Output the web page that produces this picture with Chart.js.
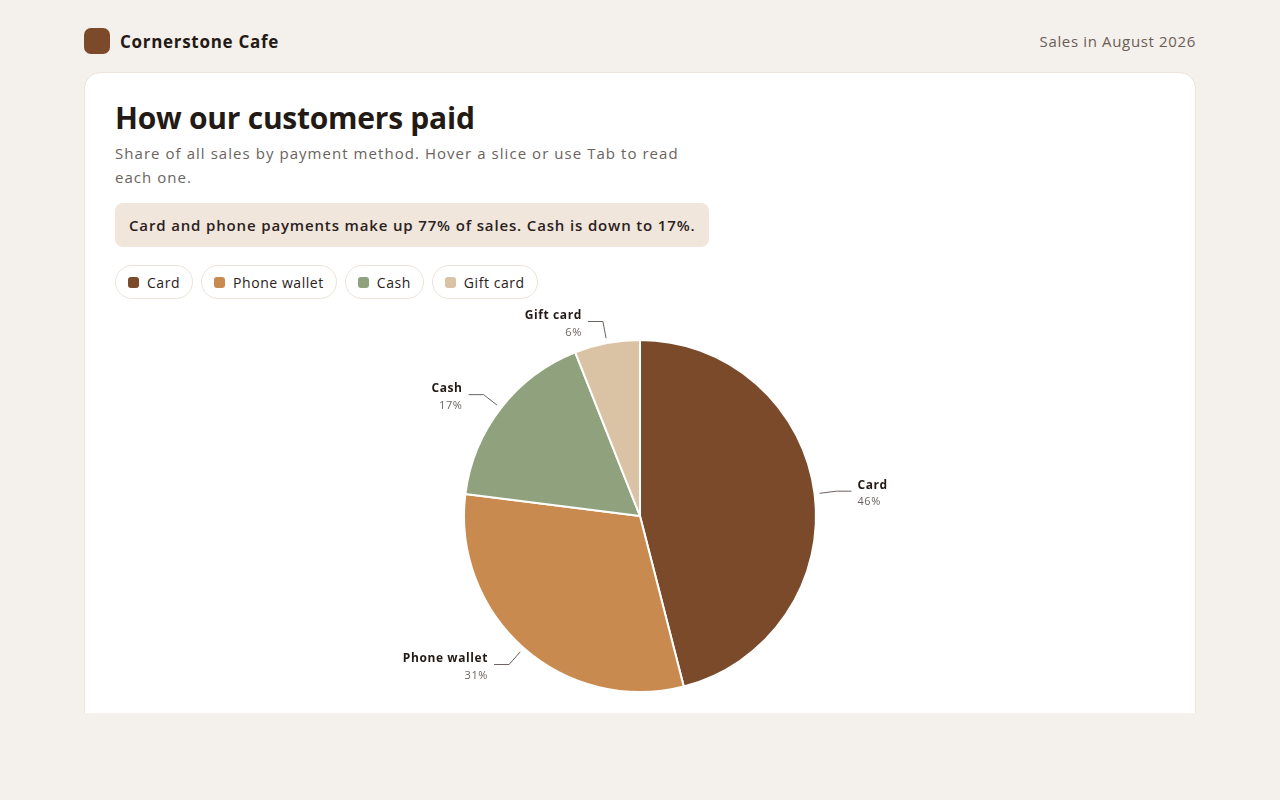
<!DOCTYPE html>
<html lang="en">
<head>
<meta charset="utf-8">
<title>Cornerstone Cafe - How our customers paid</title>
<script src="https://cdn.jsdelivr.net/npm/chart.js@4/dist/chart.umd.min.js"></script>
<style>
  * { box-sizing: border-box; }
  html, body { margin: 0; padding: 0; }
  body {
    background: #f4f0eb;
    font-family: "Open Sans", "Noto Sans", sans-serif;
    color: #231a15;
    width: 1280px;
    height: 800px;
    overflow: hidden;
  }
  .top {
    position: absolute;
    left: 84px;
    right: 84px;
    top: 28px;
    height: 26px;
    display: flex;
    align-items: center;
    justify-content: space-between;
  }
  .brand { display: flex; align-items: center; }
  .logo {
    width: 26px;
    height: 26px;
    border-radius: 7px;
    background: #7a4a2b;
    margin-right: 10px;
  }
  .brand-name { font-size: 17px; font-weight: 700; letter-spacing: 0.7px; }
  .period { font-size: 15px; color: #6b5e55; letter-spacing: 0.65px; }
  .clip {
    position: absolute;
    left: 84px;
    top: 72px;
    width: 1112px;
    height: 641px;
    overflow: hidden;
  }
  .card {
    background: #fff;
    border: 1px solid #ece3da;
    border-radius: 16px;
    height: 700px;
    padding: 25px 30px 0 30px;
  }
  h1 {
    margin: 0;
    font-size: 30px;
    font-weight: 700;
    letter-spacing: -0.25px;
    line-height: 40px;
  }
  .sub {
    margin: 3px 0 0 0;
    font-size: 15px;
    line-height: 24px;
    color: #6b6360;
    letter-spacing: 1.05px;
  }
  .callout {
    display: inline-block;
    margin-top: 14px;
    background: #f1e6dc;
    border-radius: 8px;
    padding: 0 14px;
    height: 44px;
    line-height: 44px;
    font-size: 15px;
    font-weight: 600;
    color: #2a211c;
    letter-spacing: 0.85px;
  }
  .chips { display: flex; gap: 8px; margin-top: 18px; }
  .chip {
    display: flex;
    align-items: center;
    height: 34px;
    padding: 0 12px;
    border: 1px solid #ece3da;
    border-radius: 17px;
    font-size: 14px;
    color: #2a211c;
    letter-spacing: 0.55px;
  }
  .sw { width: 11px; height: 11px; border-radius: 3px; margin-right: 8px; }
  .chart-box { position: relative; height: 422px; margin-top: 1px; }
</style>
</head>
<body>
  <div class="top">
    <div class="brand"><div class="logo"></div><span class="brand-name">Cornerstone Cafe</span></div>
    <div class="period">Sales in August 2026</div>
  </div>
  <div class="clip">
    <div class="card">
      <h1>How our customers paid</h1>
      <p class="sub">Share of all sales by payment method. Hover a slice or use Tab to read<br>each one.</p>
      <div class="callout">Card and phone payments make up 77% of sales. Cash is down to 17%.</div>
      <div class="chips" id="chips"></div>
      <div class="chart-box"><canvas id="pieChart"></canvas></div>
    </div>
  </div>

<script>
const methods = ["Card", "Phone wallet", "Cash", "Gift card"];
const shares = [46, 31, 17, 6];
const sliceColors = ["#7a4a2b", "#c98a4f", "#8fa27d", "#dac3a5"];

const chips = document.getElementById("chips");
methods.forEach((name, i) => {
  const chip = document.createElement("div");
  chip.className = "chip";
  chip.innerHTML = `<span class="sw" style="background:${sliceColors[i]}"></span>${name}`;
  chips.appendChild(chip);
});

// draws the name + percent beside each slice with a small elbow line
const leaderLabels = {
  id: "leaderLabels",
  afterDatasetsDraw(chart) {
    const ctx = chart.ctx;
    const meta = chart.getDatasetMeta(0);
    ctx.save();
    meta.data.forEach((arc, i) => {
      const mid = (arc.startAngle + arc.endAngle) / 2;
      const cos = Math.cos(mid);
      const sin = Math.sin(mid);
      const r = arc.outerRadius;
      const x1 = arc.x + cos * (r + 5);
      const y1 = arc.y + sin * (r + 5);
      const x2 = arc.x + cos * (r + 22);
      const y2 = arc.y + sin * (r + 22);
      const right = cos >= 0;
      const x3 = x2 + (right ? 15 : -15);

      ctx.strokeStyle = "#6b6360";
      ctx.lineWidth = 1;
      ctx.beginPath();
      ctx.moveTo(x1, y1);
      ctx.lineTo(x2, y2);
      ctx.lineTo(x3, y2);
      ctx.stroke();

      const tx = x3 + (right ? 6 : -6);
      ctx.textAlign = right ? "left" : "right";
      ctx.textBaseline = "middle";
      ctx.letterSpacing = "0.6px";
      ctx.fillStyle = "#231a15";
      ctx.font = "700 12px 'Open Sans', sans-serif";
      ctx.fillText(methods[i], tx, y2 - 6);
      ctx.fillStyle = "#6b6360";
      ctx.font = "400 11px 'Open Sans', sans-serif";
      ctx.fillText(shares[i] + "%", tx, y2 + 11);
    });
    ctx.restore();
  },
};

new Chart(document.getElementById("pieChart"), {
  type: "pie",
  data: {
    labels: methods,
    datasets: [{
      data: shares,
      backgroundColor: sliceColors,
      borderColor: "#ffffff",
      borderWidth: 2,
    }],
  },
  options: {
    responsive: true,
    maintainAspectRatio: false,
    animation: false,
    layout: { padding: { top: 39, bottom: 29, left: 28, right: 28 } },
    plugins: {
      legend: { display: false },
      tooltip: {
        callbacks: {
          label: (item) => `${item.label}: ${item.raw}%`,
        },
      },
    },
  },
  plugins: [leaderLabels],
});
</script>
</body>
</html>
